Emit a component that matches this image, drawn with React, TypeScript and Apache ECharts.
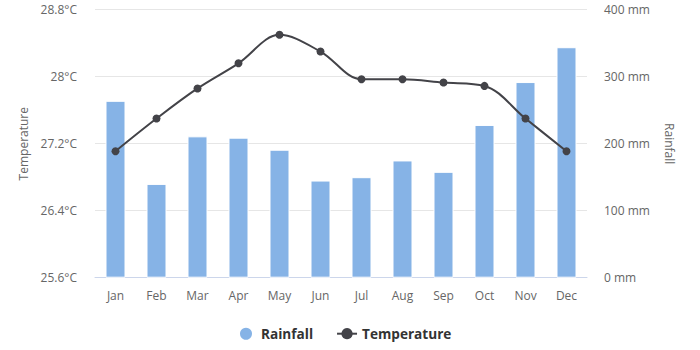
import React, { useEffect, useRef } from "react";
import * as echarts from "echarts";

const months = ["Jan", "Feb", "Mar", "Apr", "May", "Jun", "Jul", "Aug", "Sep", "Oct", "Nov", "Dec"];
const rainfall = [264, 140, 211, 209, 191, 145, 150, 175, 158, 228, 292, 344];
const temperature = [27.11, 27.5, 27.86, 28.16, 28.5, 28.3, 27.97, 27.97, 27.93, 27.89, 27.5, 27.11];

const FONT = "'Open Sans', 'Noto Sans', sans-serif";

export default function App() {
  const ref = useRef<HTMLDivElement>(null);
  useEffect(() => {
    if (!ref.current) return;
    const chart = echarts.init(ref.current, undefined, { renderer: "svg" });
    chart.setOption({
      animation: false,
      textStyle: { fontFamily: FONT },
      grid: { left: 95, right: 113, top: 9.7, bottom: 72.3 },
      legend: {
        top: 325.7,
        left: 238,
        padding: 0,
        itemGap: 23,
        itemWidth: 20,
        itemHeight: 14,
        textStyle: { fontFamily: FONT, fontSize: 13.6, fontWeight: "bold", color: "#333333" },
        data: [
          { name: "Rainfall", icon: "circle" },
          { name: "Temperature" },
        ],
      },
      xAxis: {
        type: "category",
        data: months,
        axisLine: { lineStyle: { color: "#ccd6eb" } },
        axisTick: { show: false },
        axisLabel: { color: "#666666", fontSize: 12, margin: 12, fontFamily: FONT },
      },
      yAxis: [
        {
          type: "value",
          min: 25.6,
          max: 28.8,
          interval: 0.8,
          name: "Temperature",
          nameLocation: "middle",
          nameGap: 65,
          nameTextStyle: { color: "#666666", fontSize: 12, fontFamily: FONT },
          axisLabel: {
            color: "#666666",
            fontSize: 12,
            margin: 18,
            fontFamily: FONT,
            formatter: (v: number) => `${parseFloat(v.toFixed(1))}°C`,
          },
          splitLine: { lineStyle: { color: "#e6e6e6" } },
          axisLine: { show: false },
          axisTick: { show: false },
        },
        {
          type: "value",
          min: 0,
          max: 400,
          interval: 100,
          position: "right",
          name: "Rainfall",
          nameLocation: "middle",
          nameRotate: -90,
          nameGap: 76,
          nameTextStyle: { color: "#666666", fontSize: 12, fontFamily: FONT },
          axisLabel: {
            color: "#666666",
            fontSize: 12,
            margin: 17,
            fontFamily: FONT,
            formatter: (v: number) => `${v} mm`,
          },
          splitLine: { show: false },
          axisLine: { show: false },
          axisTick: { show: false },
        },
      ],
      series: [
        {
          name: "Rainfall",
          type: "bar",
          yAxisIndex: 1,
          data: rainfall,
          barWidth: 20,
          itemStyle: { color: "#86b3e6", borderColor: "#ffffff", borderWidth: 1 },
        },
        {
          name: "Temperature",
          type: "line",
          yAxisIndex: 0,
          data: temperature,
          smooth: 0.35,
          symbol: "circle",
          symbolSize: 8,
          lineStyle: { color: "#434348", width: 2 },
          itemStyle: { color: "#434348" },
        },
      ],
    });
    return () => chart.dispose();
  }, []);
  return <div ref={ref} style={{ width: 700, height: 350, position: "absolute", left: 0, top: 0 }} />;
}
